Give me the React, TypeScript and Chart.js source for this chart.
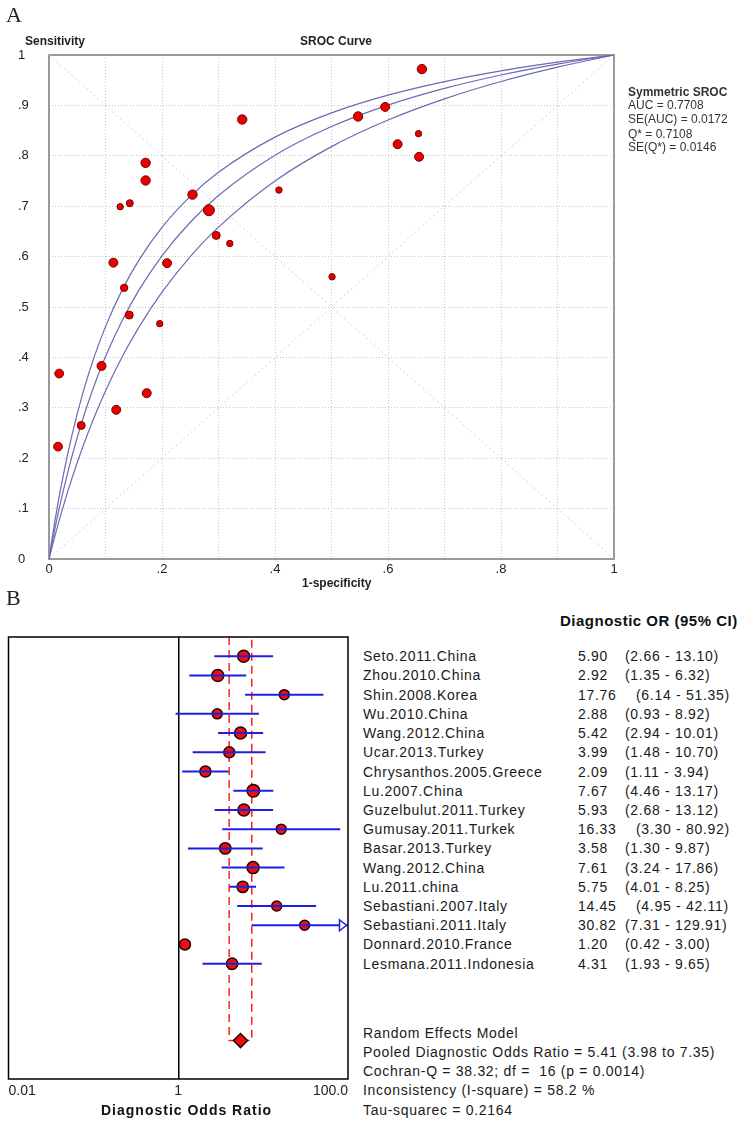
import React, { useEffect, useRef } from "react";
import { Chart, registerables } from "chart.js";

Chart.register(...registerables);

// ---------------- Panel A : SROC ----------------
const srocFpr = [0.660, 0.595, 0.547, 0.342, 0.654, 0.617, 0.655, 0.171, 0.171, 0.407, 0.254, 0.143, 0.126, 0.283, 0.296, 0.320, 0.114, 0.209, 0.501, 0.133, 0.142, 0.196, 0.093, 0.018, 0.173, 0.119, 0.057, 0.016];
const srocSens = [0.972, 0.897, 0.878, 0.872, 0.844, 0.823, 0.798, 0.786, 0.751, 0.732, 0.723, 0.706, 0.699, 0.692, 0.642, 0.626, 0.588, 0.587, 0.560, 0.538, 0.484, 0.467, 0.383, 0.368, 0.329, 0.296, 0.265, 0.223];
const srocWeight = [4.7, 4.5, 4.7, 4.7, 3.2, 4.5, 4.5, 4.7, 4.7, 3.2, 4.7, 3.5, 3.2, 5.5, 4, 3.2, 4.5, 4.5, 3.2, 3.7, 4, 3.2, 4.5, 4.4, 4.5, 4.5, 4, 4.4];

const curveFpr = [0, 0.005, 0.01, 0.02, 0.04, 0.06, 0.08, 0.1, 0.13, 0.16, 0.2, 0.25, 0.3, 0.4, 0.5, 0.6, 0.7, 0.8, 0.9, 1];
const curveUpper = [0, 0.0373, 0.0722, 0.1358, 0.2429, 0.3295, 0.401, 0.4611, 0.535, 0.5946, 0.6581, 0.7196, 0.7674, 0.837, 0.8851, 0.9203, 0.9473, 0.9686, 0.9858, 1];
const curveMid = [0, 0.0295, 0.0575, 0.1097, 0.2011, 0.2783, 0.3444, 0.4016, 0.4744, 0.535, 0.6016, 0.6681, 0.7213, 0.8011, 0.858, 0.9006, 0.9337, 0.9603, 0.9819, 1];
const curveLower = [0, 0.0221, 0.0435, 0.0841, 0.1579, 0.2231, 0.2813, 0.3333, 0.4021, 0.4615, 0.5294, 0.6, 0.6585, 0.75, 0.8182, 0.871, 0.913, 0.9474, 0.9759, 1];

const xTickLabelsA = ["0", ".2", ".4", ".6", ".8", "1"];
const yTickLabelsA = ["0", ".1", ".2", ".3", ".4", ".5", ".6", ".7", ".8", ".9", "1"];
const srocStats = ["AUC = 0.7708", "SE(AUC) = 0.0172", "Q* = 0.7108", "SE(Q*) = 0.0146"];

// ---------------- Panel B : Forest plot ----------------
const studies = [
  "Seto.2011.China", "Zhou.2010.China", "Shin.2008.Korea", "Wu.2010.China", "Wang.2012.China",
  "Ucar.2013.Turkey", "Chrysanthos.2005.Greece", "Lu.2007.China", "Guzelbulut.2011.Turkey",
  "Gumusay.2011.Turkek", "Basar.2013.Turkey", "Wang.2012.China", "Lu.2011.china",
  "Sebastiani.2007.Italy", "Sebastiani.2011.Italy", "Donnard.2010.France", "Lesmana.2011.Indonesia",
];
const orValues = [5.90, 2.92, 17.76, 2.88, 5.42, 3.99, 2.09, 7.67, 5.93, 16.33, 3.58, 7.61, 5.75, 14.45, 30.82, 1.20, 4.31];
const ciLow = [2.66, 1.35, 6.14, 0.93, 2.94, 1.48, 1.11, 4.46, 2.68, 3.30, 1.30, 3.24, 4.01, 4.95, 7.31, 0.42, 1.93];
const ciHigh = [13.10, 6.32, 51.35, 8.92, 10.01, 10.70, 3.94, 13.17, 13.12, 80.92, 9.87, 17.86, 8.25, 42.11, 129.91, 3.00, 9.65];
const ciDrawn = [true, true, true, true, true, true, true, true, true, true, true, true, true, true, true, false, true];
const studyWeight = [6, 6, 5, 5, 6, 5.5, 5.5, 6.3, 6, 5, 5.7, 6, 5.7, 5, 5, 5.5, 5.7];
const pooledOR = 5.41;
const pooledLow = 3.98;
const pooledHigh = 7.35;
const forestTicks = [0.01, 1, 100];
const forestTickLabels = ["0.01", "1", "100.0"];
const summaryLines = [
  "Random Effects Model",
  "Pooled Diagnostic Odds Ratio = 5.41 (3.98 to 7.35)",
  "Cochran-Q = 38.32; df =  16 (p = 0.0014)",
  "Inconsistency (I-square) = 58.2 %",
  "Tau-squarec = 0.2164",
];

// layout constants for panel B
const B_CANVAS_TOP = 600;
const B_TOP = 637;
const B_BOTTOM = 1079;
const ROW_MIN = -1;
const ROW_MAX = 22;
const POOLED_ROW = 20;
const rowY = (i: number) => B_TOP + ((i - ROW_MIN) / (ROW_MAX - ROW_MIN)) * (B_BOTTOM - B_TOP);

const fmt = (v: number) => v.toFixed(2);

const ARIAL = 'Arial, "Liberation Sans", sans-serif';
const SERIF = '"Liberation Serif", "DejaVu Serif", serif';

const framePluginA = {
  id: "frameA",
  beforeDatasetsDraw(chart: any) {
    const { ctx, chartArea: a } = chart;
    ctx.save();
    ctx.strokeStyle = "#9a9a9a";
    ctx.lineWidth = 2;
    ctx.strokeRect(a.left, a.top, a.right - a.left, a.bottom - a.top);
    ctx.restore();
  },
};

const framePluginB = {
  id: "frameB",
  afterDatasetsDraw(chart: any) {
    const { ctx, chartArea: a } = chart;
    const xs = chart.scales.x;
    const ys = chart.scales.y;
    ctx.save();
    ctx.strokeStyle = "#000";
    ctx.lineWidth = 1.5;
    ctx.strokeRect(a.left, a.top, a.right - a.left, a.bottom - a.top);
    // open arrow heads where a CI exceeds the axis
    ciHigh.forEach((h, i) => {
      if (h > xs.max) {
        const px = xs.getPixelForValue(xs.max) - 1.5;
        const py = ys.getPixelForValue(i);
        ctx.beginPath();
        ctx.moveTo(px - 7, py - 5.5);
        ctx.lineTo(px, py);
        ctx.lineTo(px - 7, py + 5.5);
        ctx.closePath();
        ctx.fillStyle = "#fff";
        ctx.fill();
        ctx.strokeStyle = "#2020e0";
        ctx.lineWidth = 1.5;
        ctx.stroke();
      }
    });
    ctx.restore();
  },
};

function Txt(props: { x: number; y: number; children: any; style?: any }) {
  return (
    <div
      style={{
        position: "absolute",
        left: props.x,
        top: props.y,
        transform: "translateY(-50%)",
        whiteSpace: "pre",
        lineHeight: "normal",
        ...(props.style || {}),
      }}
    >
      {props.children}
    </div>
  );
}

export default function App() {
  const refA = useRef<HTMLCanvasElement | null>(null);
  const refB = useRef<HTMLCanvasElement | null>(null);

  useEffect(() => {
    const curveDs = (label: string, ys: number[]) => ({
      label,
      data: curveFpr.map((x, i) => ({ x, y: ys[i] })),
      showLine: true,
      pointRadius: 0,
      borderColor: "#6a6ab4",
      borderWidth: 1.2,
      cubicInterpolationMode: "monotone",
      order: 1,
    });
    const chartA = new Chart(refA.current as HTMLCanvasElement, {
      type: "scatter",
      data: {
        datasets: [
          {
            label: "Studies",
            data: srocFpr.map((x, i) => ({ x, y: srocSens[i] })),
            pointRadius: srocWeight,
            pointBackgroundColor: "#e80000",
            pointBorderColor: "#7a0000",
            pointBorderWidth: 1,
            order: 0,
          },
          curveDs("Upper", curveUpper),
          curveDs("SROC", curveMid),
          curveDs("Lower", curveLower),
          {
            label: "diag1",
            data: [{ x: 0, y: 0 }, { x: 1, y: 1 }],
            showLine: true,
            pointRadius: 0,
            borderColor: "#d0d0d0",
            borderWidth: 1,
            borderDash: [2, 3],
            order: 2,
          },
          {
            label: "diag2",
            data: [{ x: 0, y: 1 }, { x: 1, y: 0 }],
            showLine: true,
            pointRadius: 0,
            borderColor: "#d0d0d0",
            borderWidth: 1,
            borderDash: [2, 3],
            order: 2,
          },
        ] as any,
      },
      options: {
        responsive: false,
        animation: false,
        layout: { padding: { left: 18, top: 55, right: 131, bottom: 0 } },
        plugins: { legend: { display: false }, tooltip: { enabled: false } },
        scales: {
          x: {
            type: "linear",
            min: 0,
            max: 1,
            afterFit: (s: any) => {
              s.height = 31;
            },
            ticks: {
              stepSize: 0.1,
              autoSkip: false,
              maxRotation: 0,
              padding: 3,
              color: "#222",
              font: { family: ARIAL, size: 13 },
              callback: (v: any) => {
                const idx = Math.round(Number(v) * 10);
                return idx % 2 === 0 ? xTickLabelsA[idx / 2] : "";
              },
            },
            grid: { color: "#c8c8c8", lineWidth: 1, drawTicks: false },
            border: { display: false, dash: [1, 2] },
          },
          y: {
            type: "linear",
            min: 0,
            max: 1,
            afterFit: (s: any) => {
              s.width = 31;
            },
            ticks: {
              stepSize: 0.1,
              autoSkip: false,
              crossAlign: "far",
              color: "#222",
              font: { family: ARIAL, size: 13 },
              callback: (v: any) => yTickLabelsA[Math.round(Number(v) * 10)],
            },
            grid: { color: "#c8c8c8", lineWidth: 1, drawTicks: false },
            border: { display: false, dash: [1, 2] },
          },
        },
      } as any,
      plugins: [framePluginA],
    });

    const ciDatasets = studies
      .map((s, i) => ({
        label: "CI " + s,
        data: [
          { x: ciLow[i], y: i },
          { x: ciHigh[i], y: i },
        ],
        showLine: true,
        pointRadius: 0,
        borderColor: "#1f1fe0",
        borderWidth: 2,
        order: 0,
      }))
      .filter((_, i) => ciDrawn[i]);

    const chartB = new Chart(refB.current as HTMLCanvasElement, {
      type: "scatter",
      data: {
        datasets: [
          ...ciDatasets,
          {
            label: "Studies",
            data: orValues.map((x, i) => ({ x, y: i })),
            pointRadius: studyWeight,
            pointBackgroundColor: "#e81010",
            pointBorderColor: "#2a0000",
            pointBorderWidth: 1.5,
            order: 1,
          },
          {
            label: "Pooled",
            data: [{ x: pooledOR, y: POOLED_ROW }],
            pointStyle: "rectRot",
            pointRadius: 7,
            pointBackgroundColor: "#e81010",
            pointBorderColor: "#2a0000",
            pointBorderWidth: 1.5,
            order: 1,
          },
          {
            label: "Pooled CI",
            data: [
              { x: pooledLow, y: ROW_MIN },
              { x: pooledLow, y: POOLED_ROW },
              { x: pooledHigh, y: POOLED_ROW },
              { x: pooledHigh, y: ROW_MIN },
            ],
            showLine: true,
            pointRadius: 0,
            borderColor: "#ff2020",
            borderWidth: 1.5,
            borderDash: [8, 5],
            order: 2,
          },
        ] as any,
      },
      options: {
        responsive: false,
        animation: false,
        layout: { padding: { left: 5, top: B_TOP - B_CANVAS_TOP, right: 12, bottom: 0 } },
        plugins: { legend: { display: false }, tooltip: { enabled: false } },
        scales: {
          x: {
            type: "logarithmic",
            min: forestTicks[0],
            max: forestTicks[forestTicks.length - 1],
            afterBuildTicks: (s: any) => {
              s.ticks = forestTicks.map((v) => ({ value: v }));
            },
            afterFit: (s: any) => {
              s.height = 523 - (B_BOTTOM - B_CANVAS_TOP);
            },
            ticks: {
              autoSkip: false,
              maxRotation: 0,
              align: "inner",
              padding: 4,
              color: "#222",
              font: { family: ARIAL, size: 14 },
              callback: (_v: any, idx: number) => forestTickLabels[idx],
            },
            grid: {
              drawTicks: false,
              lineWidth: 1.5,
              color: (c: any) => (c.tick && c.tick.value === 1 ? "#000" : "rgba(0,0,0,0)"),
            },
            border: { display: false },
          },
          y: {
            type: "linear",
            display: false,
            min: ROW_MIN,
            max: ROW_MAX,
            reverse: true,
          },
        },
      } as any,
      plugins: [framePluginB],
    });

    return () => {
      chartA.destroy();
      chartB.destroy();
    };
  }, []);

  const listFont = { fontFamily: ARIAL, fontSize: 14, letterSpacing: "0.7px", color: "#1a1a1a" };

  return (
    <div style={{ position: "absolute", left: 0, top: 0, width: 745, height: 1123, background: "#fff", overflow: "hidden" }}>
      <canvas ref={refA} width={745} height={590} style={{ position: "absolute", left: 0, top: 0, width: 745, height: 590 }} />
      <canvas ref={refB} width={360} height={523} style={{ position: "absolute", left: 0, top: B_CANVAS_TOP, width: 360, height: 523 }} />

      <Txt x={6} y={15} style={{ fontFamily: SERIF, fontSize: 22, color: "#222" }}>A</Txt>
      <Txt x={25} y={41} style={{ fontFamily: ARIAL, fontSize: 12, fontWeight: "bold", color: "#222" }}>Sensitivity</Txt>
      <Txt x={300} y={41} style={{ fontFamily: ARIAL, fontSize: 12, fontWeight: "bold", color: "#222" }}>SROC Curve</Txt>
      <Txt x={302} y={583} style={{ fontFamily: ARIAL, fontSize: 12, fontWeight: "bold", color: "#222" }}>1-specificity</Txt>
      <Txt x={628} y={92} style={{ fontFamily: ARIAL, fontSize: 12, fontWeight: "bold", color: "#333" }}>Symmetric SROC</Txt>
      {srocStats.map((s, i) => (
        <Txt key={s} x={628} y={[105, 118.5, 133.5, 147][i]} style={{ fontFamily: ARIAL, fontSize: 12, color: "#333" }}>
          {s}
        </Txt>
      ))}

      <Txt x={6} y={598} style={{ fontFamily: SERIF, fontSize: 22, color: "#222" }}>B</Txt>
      <Txt x={560} y={620} style={{ fontFamily: ARIAL, fontSize: 15, fontWeight: "bold", letterSpacing: "0.5px", color: "#111" }}>Diagnostic OR (95% CI)</Txt>
      {studies.map((s, i) => (
        <React.Fragment key={i}>
          <Txt x={363} y={rowY(i)} style={listFont}>{s}</Txt>
          <Txt x={578} y={rowY(i)} style={listFont}>{fmt(orValues[i])}</Txt>
          <Txt x={orValues[i] >= 10 && ciHigh[i] < 100 ? 636 : 625} y={rowY(i)} style={listFont}>
            {"(" + fmt(ciLow[i]) + " - " + fmt(ciHigh[i]) + ")"}
          </Txt>
        </React.Fragment>
      ))}
      {summaryLines.map((s, j) => (
        <Txt key={j} x={363} y={1032.5 + 19.25 * j} style={listFont}>{s}</Txt>
      ))}
      <Txt x={101} y={1110} style={{ fontFamily: ARIAL, fontSize: 14, fontWeight: "bold", letterSpacing: "1px", color: "#111" }}>
        Diagnostic Odds Ratio
      </Txt>
    </div>
  );
}
